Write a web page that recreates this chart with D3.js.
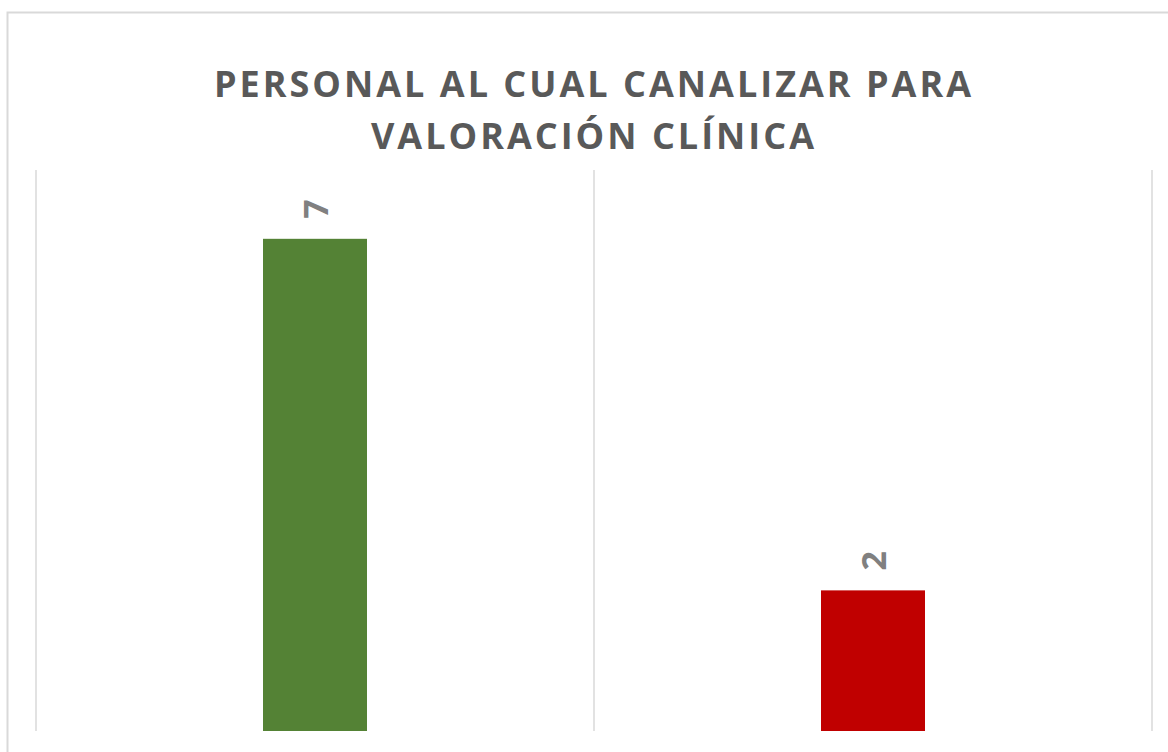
<!DOCTYPE html>
<html>
<head>
	<meta charset="utf-8"/>
	<title>Personal al cual canalizar</title>
	<script src="https://d3js.org/d3.v7.min.js"></script>
	<style>
		body{margin:0;background:#fff;}
		svg{display:block;}
	</style>
</head>
<body>
<script>
	// data
	var categories = ["Sí", "No"];
	var values = [7, 2];
	var colors = ["#548235", "#C00000"];
	var titleLines = ["PERSONAL AL CUAL CANALIZAR PARA", "VALORACIÓN CLÍNICA"];

	var W = 1168, H = 752;
	var plot = {left:36, right:1152, top:170, bottom:731};

	var svg = d3.select("body").append("svg")
		.attr("width", W)
		.attr("height", H);

	// chart border (runs off the picture to the right and bottom)
	svg.append("rect")
		.attr("x", 7.5).attr("y", 12.5)
		.attr("width", 1300).attr("height", 900)
		.attr("fill", "none")
		.attr("stroke", "#d9d9d9")
		.attr("stroke-width", 2);

	var x = d3.scaleBand()
		.domain(categories)
		.range([plot.left, plot.right])
		.paddingInner(0).paddingOuter(0);

	var y = d3.scaleLinear()
		.domain([0, 8])
		.range([plot.bottom, 168.5]);

	// vertical gridlines between categories
	var edges = categories.map(function(c){return x(c);}).concat([plot.right]);
	svg.selectAll("line.grid").data(edges)
		.enter().append("line")
		.attr("class", "grid")
		.attr("x1", function(d){return d;})
		.attr("x2", function(d){return d;})
		.attr("y1", plot.top)
		.attr("y2", plot.bottom)
		.attr("stroke", "#d9d9d9")
		.attr("stroke-width", 1.5);

	var barW = 104;
	svg.selectAll("rect.bar").data(values)
		.enter().append("rect")
		.attr("class", "bar")
		.attr("x", function(d,i){return x(categories[i]) + x.bandwidth()/2 - barW/2;})
		.attr("y", function(d){return y(d);})
		.attr("width", barW)
		.attr("height", function(d){return y(0) - y(d);})
		.attr("fill", function(d,i){return colors[i];});

	// rotated value labels
	svg.selectAll("text.lbl").data(values)
		.enter().append("text")
		.attr("class", "lbl")
		.attr("transform", function(d,i){
			var cx = x(categories[i]) + x.bandwidth()/2 + 1;
			return "translate(" + cx + "," + (y(d) - 20) + ") rotate(-90)";
		})
		.attr("dy", "0.36em")
		.attr("text-anchor", "start")
		.attr("font-family", "'Open Sans', sans-serif")
		.attr("font-weight", "bold")
		.attr("font-size", 34)
		.attr("fill", "#808080")
		.text(function(d){return d;});

	// title
	svg.selectAll("text.title").data(titleLines)
		.enter().append("text")
		.attr("class", "title")
		.attr("x", 594)
		.attr("y", function(d,i){return 97 + i*52;})
		.attr("text-anchor", "middle")
		.attr("font-family", "'Open Sans', sans-serif")
		.attr("font-weight", "bold")
		.attr("font-size", 36)
		.attr("letter-spacing", 3)
		.attr("fill", "#595959")
		.text(function(d){return d;});
</script>
</body>
</html>
